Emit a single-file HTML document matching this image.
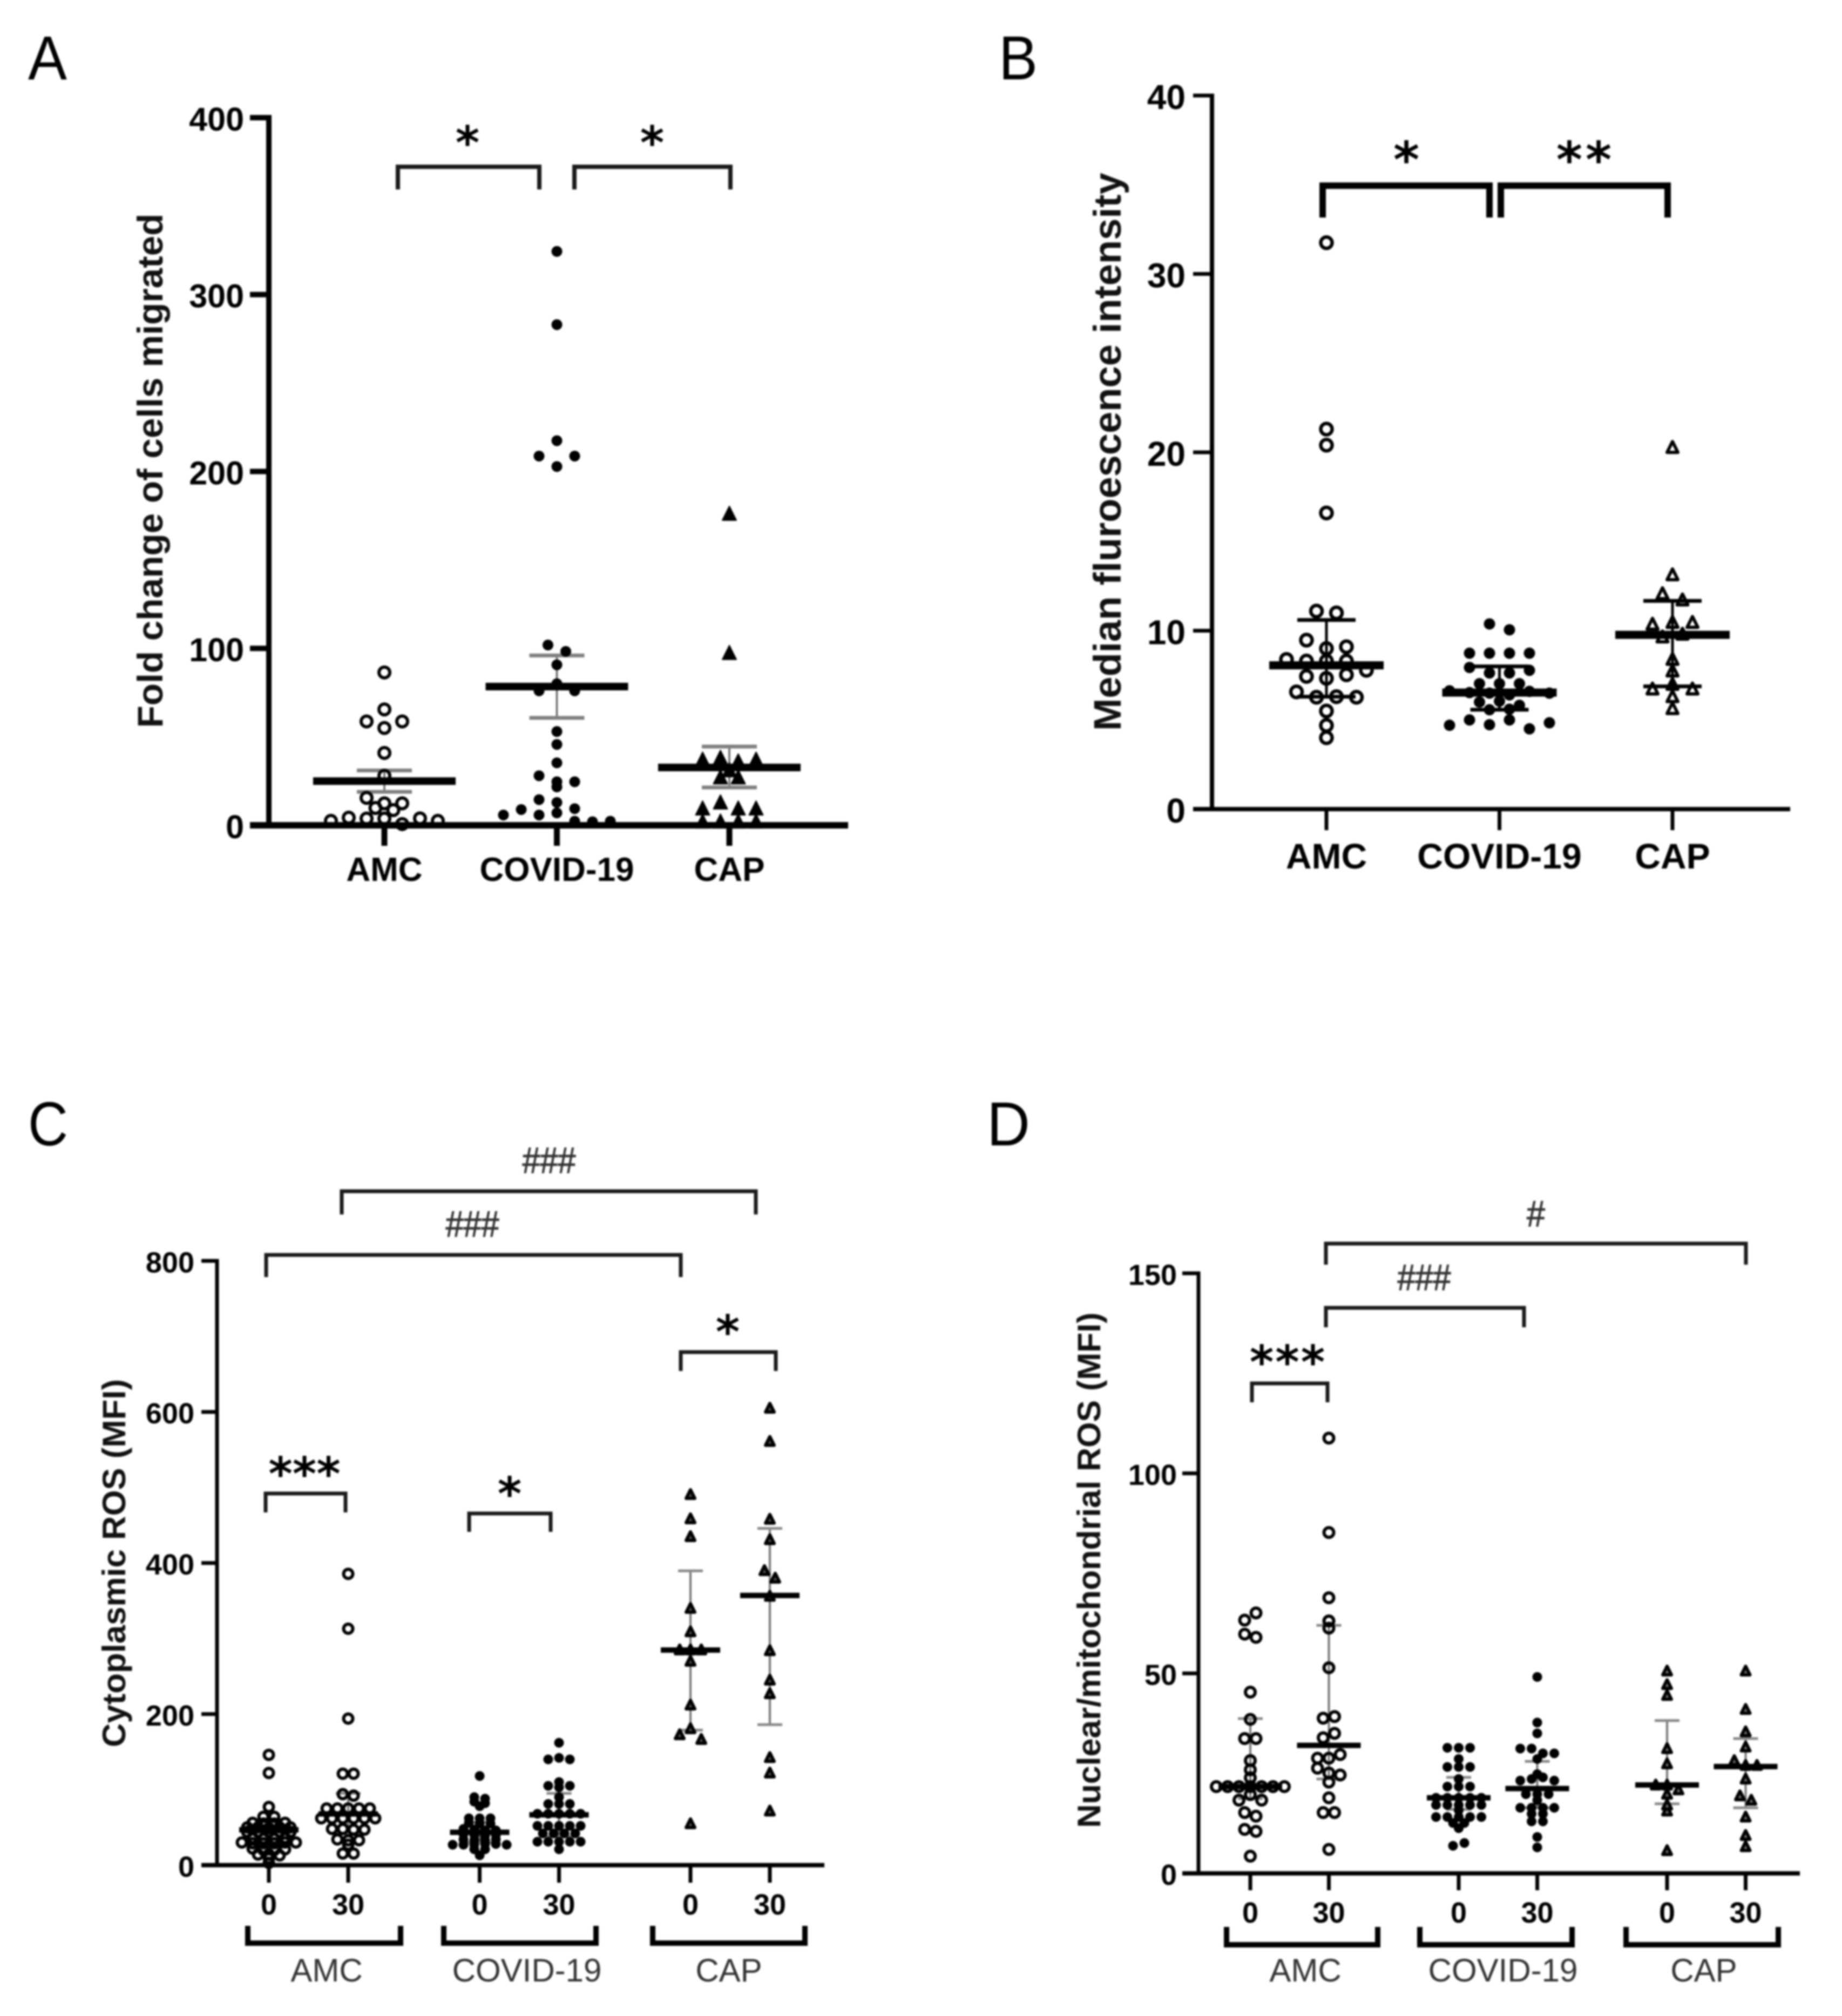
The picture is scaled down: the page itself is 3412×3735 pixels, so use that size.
<!DOCTYPE html>
<html lang="en">
<head>
<meta charset="utf-8">
<title>Panels A-D: cell migration and ROS by patient group</title>
<style>
html,body{margin:0;padding:0;background:#fff;}
svg{display:block;filter:blur(1.5px);}
text{font-family:"Liberation Sans",Arial,sans-serif;}
.star{font-family:"DejaVu Sans",sans-serif;font-weight:bold;fill:#000;text-anchor:middle;font-size:85px;}
.hash{font-weight:normal;fill:#333;stroke:#333;stroke-width:1.2px;text-anchor:middle;font-size:68px;}
.letter{font-weight:normal;fill:#000;font-size:115px;}
.ytitle{font-weight:bold;fill:#111;text-anchor:middle;}
.group{font-weight:normal;fill:#333;text-anchor:middle;font-size:60px;}
.br{fill:none;stroke:#1a1a1a;stroke-width:7;}
</style>
</head>
<body>
<svg id="figure" xmlns="http://www.w3.org/2000/svg" width="3412" height="3735" viewBox="0 0 3412 3735">
<rect x="0" y="0" width="3412" height="3735" fill="#fff"/>

<g id="panel-a">
  <text class="letter" x="52" y="147" textLength="72" lengthAdjust="spacingAndGlyphs">A</text>
  <text class="ytitle" transform="translate(301 872) rotate(-90)" font-size="66" textLength="953" lengthAdjust="spacingAndGlyphs">Fold change of cells migrated</text>
  <path class="br" style="stroke-width:8" d="M737 351V309H999V351"/>
  <path class="br" style="stroke-width:8" d="M1064 351V309H1353V351"/>
  <text class="star" x="866" y="294">*</text>
  <text class="star" x="1208" y="294">*</text>
</g>

<g id="panel-b">
  <text class="letter" x="1850" y="147" textLength="72" lengthAdjust="spacingAndGlyphs">B</text>
  <text class="ytitle" transform="translate(2076 837) rotate(-90)" font-size="71" textLength="1034" lengthAdjust="spacingAndGlyphs">Median fluroescence intensity</text>
  <path class="br" style="stroke-width:12;stroke:#000" d="M2450 403V344H2759V403"/>
  <path class="br" style="stroke-width:12;stroke:#000" d="M2780 403V344H3089V403"/>
  <text class="star" x="2605" y="328" font-size="92" style="font-size:92px">*</text>
  <text class="star" x="2937" y="328" style="font-size:92px;letter-spacing:6px">**</text>
</g>

<g id="panel-c">
  <text class="letter" x="52" y="2122" textLength="74" lengthAdjust="spacingAndGlyphs">C</text>
  <text class="ytitle" transform="translate(232 2896) rotate(-90)" font-size="60" textLength="682" lengthAdjust="spacingAndGlyphs">Cytoplasmic ROS (MFI)</text>
  <path class="br" d="M633 2250V2207H1400V2250"/>
  <path class="br" d="M493 2366V2325H1261V2366"/>
  <path class="br" d="M1261 2540V2505H1437V2540"/>
  <path class="br" d="M492 2802V2767H640V2802"/>
  <path class="br" d="M869 2838V2804H1020V2838"/>
  <text class="hash" x="1017" y="2173" textLength="99" lengthAdjust="spacingAndGlyphs">###</text>
  <text class="hash" x="875" y="2291" textLength="99" lengthAdjust="spacingAndGlyphs">###</text>
  <text class="star" x="1348" y="2497">*</text>
  <text class="star" x="564" y="2760">***</text>
  <text class="star" x="944" y="2797">*</text>
  <path class="br" style="stroke-width:10;stroke:#000" d="M459 3568V3600H742V3568"/>
  <path class="br" style="stroke-width:10;stroke:#000" d="M822 3568V3600H1104V3568"/>
  <path class="br" style="stroke-width:10;stroke:#000" d="M1209 3568V3600H1491V3568"/>
  <text class="group" x="605" y="3671">AMC</text>
  <text class="group" x="976" y="3671">COVID-19</text>
  <text class="group" x="1350" y="3671">CAP</text>
</g>

<g id="panel-d">
  <text class="letter" x="1828" y="2122" textLength="80" lengthAdjust="spacingAndGlyphs">D</text>
  <text class="ytitle" transform="translate(2038 2909) rotate(-90)" font-size="60" textLength="955" lengthAdjust="spacingAndGlyphs">Nuclear/mitochondrial ROS (MFI)</text>
  <path class="br" d="M2456 2343V2304H3234V2343"/>
  <path class="br" d="M2456 2459V2423H2823V2459"/>
  <path class="br" d="M2319 2598V2563H2459V2598"/>
  <text class="hash" x="2845" y="2272" textLength="34" lengthAdjust="spacingAndGlyphs">#</text>
  <text class="hash" x="2638" y="2390" textLength="99" lengthAdjust="spacingAndGlyphs">###</text>
  <text class="star" x="2386" y="2553" style="letter-spacing:3px">***</text>
  <path class="br" style="stroke-width:10;stroke:#000" d="M2272 3570V3603H2552V3570"/>
  <path class="br" style="stroke-width:10;stroke:#000" d="M2630 3570V3603H2912V3570"/>
  <path class="br" style="stroke-width:10;stroke:#000" d="M3012 3570V3603H3294V3570"/>
  <text class="group" x="2418" y="3671">AMC</text>
  <text class="group" x="2784" y="3671">COVID-19</text>
  <text class="group" x="3156" y="3671">CAP</text>
</g>
</svg>

<script>
/* ---------- Panel A data ---------- */
const panelAYTicks = [0, 100, 200, 300, 400];
const panelACategories = ['AMC', 'COVID-19', 'CAP'];
const panelAAmc = [86.4, 65.5, 58.7, 55, 58.7, 40.9, 28, 15.5, 12.4, 12.4, 9.8, 8.6, 2.5, 4.3, 3.8, 3.8, 0.7, 3.9, 2.5];
const panelACovid = [324.4, 283, 217.4, 208.7, 202.8, 208.7, 101.9, 98.3, 90.7, 76, 80, 76, 53, 45.7, 35.3, 28, 24.6, 24.6, 21.7, 14.5, 12.9, 9.4, 5.8, 8.9, 5.8, 7, 2.3, 2, 2.3];
const panelACap = [176, 97.3, 37, 38, 36, 37, 31, 27, 27, 9.4, 12.8, 9.4, 9.4, 2, 2, 2, 2];
const panelAMeans = [25, 78.4, 32.7];
const panelAErrTop = [31, 96, 44.5];
const panelAErrBottom = [18.9, 60.7, 21.4];

/* ---------- Panel B data ---------- */
const panelBYTicks = [0, 10, 20, 30, 40];
const panelBCategories = ['AMC', 'COVID-19', 'CAP'];
const panelBAmc = [31.75, 21.3, 20.4, 16.6, 11.1, 11.0, 9.47, 9.0, 9.1, 8.39, 8.3, 8.3, 8.3, 7.78, 7.44, 7.33, 7.53, 6.57, 6.27, 6.3, 6.27, 5.5, 4.69, 4.0];
const panelBCovid = [10.38, 10.05, 8.74, 8.74, 8.74, 8.74, 7.94, 7.63, 7.63, 7.78, 7.03, 7.03, 7.03, 6.63, 6.53, 6.5, 6.4, 6.6, 6.5, 6.0, 6.05, 5.82, 5.57, 5.6, 4.7, 5.0, 4.73, 5.0, 4.5, 4.84];
const panelBCap = [20.27, 13.13, 12.07, 11.72, 10.36, 10.46, 10.46, 9.65, 9.8, 8.39, 7.74, 6.73, 6.99, 6.73, 6.3, 5.63];
const panelBMeans = [8.06, 6.53, 9.77];
const panelBErrTop = [10.6, 8.0, 11.67];
const panelBErrBottom = [6.3, 5.57, 6.88];

/* ---------- Panel C data ---------- */
const panelCYTicks = [0, 200, 400, 600, 800];
const panelCCategories = ['0', '30', '0', '30', '0', '30'];
const panelCAmc0 = [146, 122, 77, 64, 64, 56, 55, 55, 56, 50, 50, 49, 50, 50, 44, 44, 44, 44, 44, 36, 35, 35, 36, 30, 29, 29, 29, 30, 30, 22, 20, 20, 21, 14, 14, 13, 9, 3];
const panelCAmc30 = [385.6, 313, 194, 121, 121, 94, 92, 75, 75, 75, 75, 75, 62, 62, 62, 62, 62, 62, 48, 48, 47, 47, 34, 33, 33, 27, 15.4, 15.4];
const panelCCovid0 = [118, 90, 88, 84, 82, 78, 62, 62, 62, 56, 55, 55, 48, 47, 46, 46, 41, 40, 39, 40, 34, 33, 33, 34, 27, 27, 27, 28, 28, 27, 21, 21, 13];
const panelCCovid30 = [162, 140, 142, 140, 110, 105, 103, 105, 90, 81, 81, 81, 68, 68, 68, 68, 68, 52, 52, 52, 52, 52, 42, 42, 42, 42, 31, 31, 31, 31, 31, 21];
const panelCCap0 = [490.7, 458.6, 435, 340, 309, 285, 285, 285, 270, 212, 172.7, 180.7, 166.5, 54.9];
const panelCCap30 = [605, 561, 458, 431, 390, 380, 356, 284, 245, 227, 142.5, 122, 71.7];
const panelCMeans = [46.8, 67.8, 43.5, 66.6, 284.8, 357];
const panelCErrTop = [60, 95, 57, 95, 389.6, 445.8];
const panelCErrBottom = [32, 42, 30, 38, 178.7, 186];

/* ---------- Panel D data ---------- */
const panelDYTicks = [0, 50, 100, 150];
const panelDCategories = ['0', '30', '0', '30', '0', '30'];
const panelDAmc0 = [63.3, 65.1, 59.8, 59, 45.3, 38.5, 33.7, 33.7, 28.2, 25.9, 23.9, 21.7, 21.7, 21.7, 21.7, 21.7, 21.7, 21.7, 18.3, 19.7, 18.3, 15.2, 14.3, 11, 10.5, 4.3];
const panelDAmc30 = [108.8, 85.2, 68.9, 63.1, 61.3, 63.1, 51.4, 38.8, 39.2, 33.9, 35, 28.8, 28.8, 29.7, 26.3, 25.1, 24.6, 22.8, 18.9, 15.2, 15.2, 6];
const panelDCovid0 = [31.4, 31.4, 31.4, 28.6, 26.6, 26.6, 26.6, 23.6, 21.7, 21.7, 21.7, 18.9, 18.9, 18.9, 18.9, 18.9, 17.1, 17.1, 17.1, 17.1, 17.1, 15.8, 14.1, 14.1, 14.1, 14.1, 14.1, 12.6, 12.6, 11.3, 6.9, 7.6];
const panelDCovid30 = [49.1, 37.7, 35, 31.2, 31.2, 30, 30, 28.6, 24.8, 23.2, 23.6, 24.0, 23.2, 19.8, 19.8, 19.8, 18.3, 16.4, 16.4, 16.4, 16.4, 14.9, 14.9, 13, 13, 9.1, 6.5];
const panelDCap0 = [50.6, 47.2, 44.5, 31.2, 27.4, 22.1, 22.1, 20.9, 19.8, 17.1, 15.6, 17.1, 5.7];
const panelDCap30 = [50.6, 41, 35.4, 31.6, 28.2, 27, 27, 23.6, 19.4, 18.3, 14.1, 9.5, 6.7];
const panelDMeans = [21.7, 32, 18.9, 21.2, 22.1, 26.7];
const panelDErrTop = [38.7, 62, 24, 28, 38.2, 33.7];
const panelDErrBottom = [18.7, 23.6, 16, 16.4, 17.4, 16.4];

/* ---------- Helpers ---------- */
const SVG_NS = 'http://www.w3.org/2000/svg';

function svgEl(tag, attrs, parent) {
  const el = document.createElementNS(SVG_NS, tag);
  for (const key in attrs) el.setAttribute(key, attrs[key]);
  parent.appendChild(el);
  return el;
}

function linearScale(v0, p0, v1, p1) {
  return function (v) { return p0 + (v - v0) * (p1 - p0) / (v1 - v0); };
}

/* Groups consecutive values into horizontal swarm rows. */
function swarmRows(values, bin) {
  const rows = [];
  let current = null;
  values.forEach(function (v) {
    if (!current || Math.abs(v - current[0]) > bin) {
      current = [v];
      rows.push(current);
    } else {
      current.push(v);
    }
  });
  return rows;
}

function drawMarker(parent, kind, cx, cy, style, seriesName) {
  let el;
  if (kind === 'triangle') {
    const s = style.size;
    const pts = [[cx, cy - s * 0.55], [cx - s / 2, cy + s * 0.45], [cx + s / 2, cy + s * 0.45]]
      .map(function (p) { return p.join(','); }).join(' ');
    el = svgEl('polygon', {points: pts, fill: style.fill, stroke: '#000', 'stroke-width': style.sw, 'stroke-linejoin': 'round'}, parent);
  } else {
    el = svgEl('circle', {cx: cx, cy: cy, r: style.r, fill: style.fill, stroke: style.sw ? '#000' : 'none', 'stroke-width': style.sw}, parent);
  }
  
  
}

function drawAxes(cfg, parent) {
  const y = cfg.yScale;
  const top = y(cfg.yTicks[cfg.yTicks.length - 1]);
  const bottom = y(cfg.yTicks[0]);

  const yAxis = svgEl('line', {x1: cfg.axisX, x2: cfg.axisX, y1: top - cfg.yTickW / 2, y2: bottom, stroke: '#000', 'stroke-width': cfg.axisW}, parent);
  
  

  const xAxis = svgEl('line', {x1: cfg.tickLeft, x2: cfg.axisRight, y1: bottom, y2: bottom, stroke: '#000', 'stroke-width': cfg.xAxisW}, parent);
  
  

  cfg.yTicks.forEach(function (t) {
    const tick = svgEl('line', {x1: cfg.tickLeft, x2: cfg.axisX, y1: y(t), y2: y(t), stroke: '#000', 'stroke-width': cfg.yTickW}, parent);
    
    

    const label = svgEl('text', {x: cfg.yLabelRight, y: y(t) + cfg.yFont * 0.358 + 2, 'text-anchor': 'end', 'font-size': cfg.yFont, 'font-weight': 'bold', fill: '#000'}, parent);
    label.textContent = String(t);
    
    
  });

  cfg.categories.forEach(function (c, i) {
    const cx = cfg.xPos(i);
    const tick = svgEl('line', {x1: cx, x2: cx, y1: bottom, y2: cfg.xTickBottom, stroke: '#000', 'stroke-width': cfg.xTickW}, parent);
    
    

    const label = svgEl('text', {x: cx, y: cfg.xLabelBaseline, 'text-anchor': 'middle', 'font-size': cfg.xFont, 'font-weight': 'bold', fill: '#000'}, parent);
    label.textContent = c;
    
    
  });
}

function drawSeries(cfg, parent) {
  const y = cfg.yScale;
  cfg.series.forEach(function (s, i) {
    const cx = cfg.xPos(i);
    const group = svgEl('g', {}, parent);
    
    

    const stem = svgEl('line', {x1: cx, x2: cx, y1: y(cfg.errTop[i]), y2: y(cfg.errBottom[i]), stroke: cfg.stemColor, 'stroke-width': cfg.stemW}, group);
    
    

    const capTop = svgEl('line', {x1: cx - cfg.capHalf, x2: cx + cfg.capHalf, y1: y(cfg.errTop[i]), y2: y(cfg.errTop[i]), stroke: cfg.capColor, 'stroke-width': cfg.capW}, group);
    
    

    const capBottom = svgEl('line', {x1: cx - cfg.capHalf, x2: cx + cfg.capHalf, y1: y(cfg.errBottom[i]), y2: y(cfg.errBottom[i]), stroke: cfg.capColor, 'stroke-width': cfg.capW}, group);
    
    

    swarmRows(s.values, s.bin).forEach(function (row) {
      row.forEach(function (v, k) {
        const offset = (k - (row.length - 1) / 2) * cfg.step;
        drawMarker(group, s.marker, cx + offset, y(v), cfg.markers[s.marker], cfg.id + '-' + s.name);
      });
    });

    const mean = svgEl('line', {x1: cx - cfg.meanHalf, x2: cx + cfg.meanHalf, y1: y(cfg.means[i]), y2: y(cfg.means[i]), stroke: '#000', 'stroke-width': cfg.meanW}, group);
    
    
  });
}

function drawPanel(cfg) {
  const parent = document.getElementById(cfg.id);
  drawSeries(cfg, parent);
  drawAxes(cfg, parent);
}

/* ---------- Panels ---------- */
drawPanel({
  id: 'panel-a',
  yScale: linearScale(0, 1529, 400, 218),
  yTicks: panelAYTicks, categories: panelACategories,
  xPos: function (i) { return 712 + i * 319.5; },
  axisX: 498, axisW: 10, xAxisW: 12, tickLeft: 463, axisRight: 1571, yTickW: 10,
  yLabelRight: 452, yFont: 61, xTickBottom: 1567, xTickW: 11, xLabelBaseline: 1632, xFont: 62,
  step: 33, meanHalf: 132, meanW: 14, capHalf: 51, capW: 7, capColor: '#808080', stemW: 3.5, stemColor: '#666',
  means: panelAMeans, errTop: panelAErrTop, errBottom: panelAErrBottom,
  markers: {
    circleOpen: {r: 10, fill: 'none', sw: 6},
    circleFill: {r: 10, fill: '#000', sw: 0},
    triangle: {size: 26, fill: '#000', sw: 2}
  },
  series: [
    {name: 'amc', values: panelAAmc, marker: 'circleOpen', bin: 4},
    {name: 'covid-19', values: panelACovid, marker: 'circleFill', bin: 6},
    {name: 'cap', values: panelACap, marker: 'triangle', bin: 3.5}
  ]
});

drawPanel({
  id: 'panel-b',
  yScale: linearScale(0, 1499, 40, 177),
  yTicks: panelBYTicks, categories: panelBCategories,
  xPos: function (i) { return 2457 + i * 320.5; },
  axisX: 2245, axisW: 8, xAxisW: 8, tickLeft: 2210, axisRight: 3316, yTickW: 7,
  yLabelRight: 2196, yFont: 64, xTickBottom: 1538, xTickW: 7, xLabelBaseline: 1609, xFont: 66,
  step: 37, meanHalf: 106, meanW: 15, capHalf: 54, capW: 7, capColor: '#000', stemW: 5, stemColor: '#000',
  means: panelBMeans, errTop: panelBErrTop, errBottom: panelBErrBottom,
  markers: {
    circleOpen: {r: 10.5, fill: 'none', sw: 6.5},
    circleFill: {r: 10.5, fill: '#000', sw: 0},
    triangle: {size: 20, fill: 'none', sw: 6}
  },
  series: [
    {name: 'amc', values: panelBAmc, marker: 'circleOpen', bin: 0.65},
    {name: 'covid-19', values: panelBCovid, marker: 'circleFill', bin: 0.35},
    {name: 'cap', values: panelBCap, marker: 'triangle', bin: 0.4}
  ]
});

drawPanel({
  id: 'panel-c',
  yScale: linearScale(0, 3455.5, 800, 2336),
  yTicks: panelCYTicks, categories: panelCCategories,
  xPos: function (i) { return 498 + Math.floor(i / 2) * 390.5 + (i % 2) * 147; },
  axisX: 402, axisW: 7, xAxisW: 8, tickLeft: 373, axisRight: 1527, yTickW: 7,
  yLabelRight: 360, yFont: 54, xTickBottom: 3488, xTickW: 7, xLabelBaseline: 3547, xFont: 54,
  step: 20, meanHalf: 55, meanW: 10, capHalf: 23, capW: 5, capColor: '#888', stemW: 4, stemColor: '#777',
  means: panelCMeans, errTop: panelCErrTop, errBottom: panelCErrBottom,
  markers: {
    circleOpen: {r: 8.5, fill: 'none', sw: 6},
    circleFill: {r: 9, fill: '#000', sw: 0},
    triangle: {size: 16, fill: '#555', sw: 6}
  },
  series: [
    {name: 'amc-0', values: panelCAmc0, marker: 'circleOpen', bin: 3},
    {name: 'amc-30', values: panelCAmc30, marker: 'circleOpen', bin: 3},
    {name: 'covid-0', values: panelCCovid0, marker: 'circleFill', bin: 3},
    {name: 'covid-30', values: panelCCovid30, marker: 'circleFill', bin: 3},
    {name: 'cap-0', values: panelCCap0, marker: 'triangle', bin: 10},
    {name: 'cap-30', values: panelCCap30, marker: 'triangle', bin: 10}
  ]
});

drawPanel({
  id: 'panel-d',
  yScale: linearScale(0, 3470.8, 150, 2359),
  yTicks: panelDYTicks, categories: panelDCategories,
  xPos: function (i) { return 2316 + Math.floor(i / 2) * 386 + (i % 2) * 145.5; },
  axisX: 2220, axisW: 7, xAxisW: 8, tickLeft: 2190, axisRight: 3334, yTickW: 7,
  yLabelRight: 2180, yFont: 54, xTickBottom: 3502, xTickW: 7, xLabelBaseline: 3562, xFont: 54,
  step: 21, meanHalf: 59, meanW: 10, capHalf: 23, capW: 5, capColor: '#888', stemW: 4, stemColor: '#777',
  means: panelDMeans, errTop: panelDErrTop, errBottom: panelDErrBottom,
  markers: {
    circleOpen: {r: 9, fill: 'none', sw: 6},
    circleFill: {r: 9, fill: '#000', sw: 0},
    triangle: {size: 16, fill: '#777', sw: 6}
  },
  series: [
    {name: 'amc-0', values: panelDAmc0, marker: 'circleOpen', bin: 1.8},
    {name: 'amc-30', values: panelDAmc30, marker: 'circleOpen', bin: 1.8},
    {name: 'covid-0', values: panelDCovid0, marker: 'circleFill', bin: 1.2},
    {name: 'covid-30', values: panelDCovid30, marker: 'circleFill', bin: 1.3},
    {name: 'cap-0', values: panelDCap0, marker: 'triangle', bin: 1.5},
    {name: 'cap-30', values: panelDCap30, marker: 'triangle', bin: 1.5}
  ]
});
</script>
</body>
</html>
